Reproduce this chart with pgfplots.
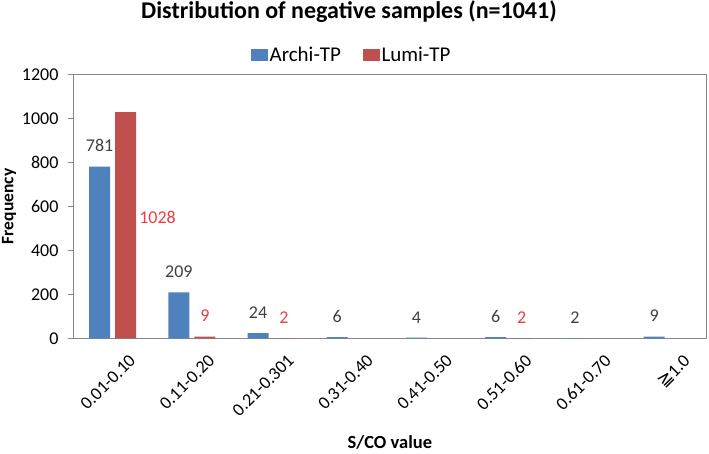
\documentclass[border=0pt]{standalone}
\usepackage{pgfplots}
\pgfplotsset{compat=1.18}
\usepackage{pgfplotstable}
\usepackage{fontspec}
\setmainfont{Carlito}
\newfontfamily\dejavu{DejaVu Sans}
\definecolor{archiblue}{RGB}{79,129,189}
\definecolor{lumired}{RGB}{192,80,77}
\definecolor{labred}{RGB}{240,60,60}
\definecolor{labgray}{RGB}{64,64,64}
\definecolor{axisgray}{RGB}{134,134,134}

\pgfplotstableread{
x y dx dy
0 781 0 11
1 209 0 11
2 24 0 11
3 6 0 11
4 4 0 11
5 6 0 11
6 2 0 11
7 9 0 11
}\archi

\pgfplotstableread{
x y dx dy
0 1028 32 -114.8
1 9 0 11
2 2 0 11
5 2 0 11
}\lumi

\begin{document}
\begin{tikzpicture}
\useasboundingbox (-73pt,-115.5pt) rectangle (636pt,338.5pt);
\begin{axis}[
  at={(0,0)}, anchor=south west,
  scale only axis,
  width=633.7pt, height=264.2pt,
  ybar,
  xmin=-0.5, xmax=7.5,
  ymin=0, ymax=1200,
  ytick={0,200,...,1200},
  xtick={0,...,7},
  xticklabels={0.01-0.10,0.11-0.20,0.21-0.301,0.31-0.40,0.41-0.50,0.51-0.60,0.61-0.70,{\dejavu ≧}1.0},
  /pgf/number format/assume math mode=true,
  /pgf/number format/1000 sep={},
  axis line style={axisgray},
  ytick pos=left,
  tick align=outside,
  major tick length=5pt,
  ytick style={axisgray},
  xtick style={draw=none},
  tick label style={font=\fontsize{18}{20}\selectfont, text=black},
  yticklabel style={xshift=-6pt},
  xticklabel style={rotate=45, anchor=north east, inner sep=0pt, xshift=4pt, yshift=-18pt},
  every axis title shift=0pt,
  title={\textbf{Distribution of negative samples (n=1041)}},
  title style={font=\fontsize{24}{28}\selectfont, at={(axis description cs:0.4355,1.213)}, anchor=base},
  ylabel={\textbf{Frequency}},
  ylabel style={font=\fontsize{17.5}{20}\selectfont, at={(axis description cs:-0.101,0.5)}, anchor=center},
  xlabel={\textbf{S/CO value}},
  xlabel style={font=\fontsize{18.5}{21}\selectfont, inner sep=0pt, at={(axis description cs:0.5,-0.418)}, anchor=base},
  legend image code/.code={\path (0pt,-5.5pt) rectangle (16.5pt,6pt);\fill[#1] (0pt,-5.5pt) rectangle (11.5pt,6pt);},
  legend style={draw=none, fill=none, legend columns=-1,
    font=\fontsize{21}{24}\selectfont,
    at={(axis description cs:0.440,1.073)}, anchor=center,
    /tikz/every even column/.append style={column sep=20pt}},
  bar width=21pt,
]
\addlegendimage{fill=archiblue, draw=none}
\addlegendentry{Archi-TP}
\addlegendimage{fill=lumired, draw=none}
\addlegendentry{Lumi-TP}
\addplot[forget plot, fill=archiblue, draw=none, bar shift=-13pt,
  nodes near coords,
  every node near coord/.append style={font=\fontsize{18}{20}\selectfont, text=labgray, yshift=11pt}] table[x=x,y=y] {\archi};
\addplot[forget plot, fill=lumired, draw=none, bar shift=13pt,
  nodes near coords,
  visualization depends on={\thisrow{dx} \as \dx},
  visualization depends on={\thisrow{dy} \as \dy},
  every node near coord/.append style={font=\fontsize{18}{20}\selectfont, text=labred, xshift=\dx pt, yshift=\dy pt}] table[x=x,y=y] {\lumi};
\end{axis}
\end{tikzpicture}
\end{document}
